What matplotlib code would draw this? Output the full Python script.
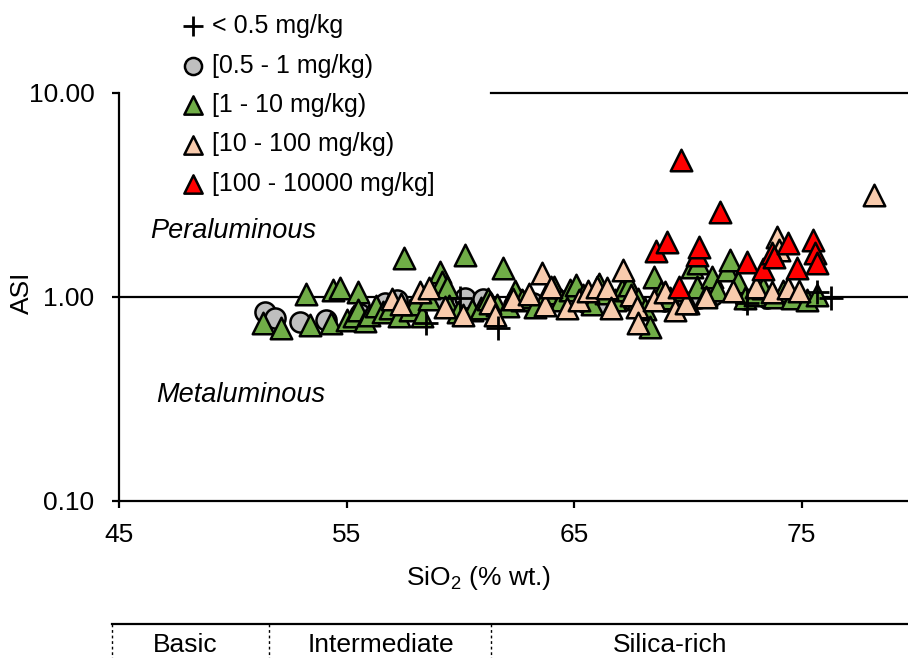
import numpy as np
import matplotlib
matplotlib.use("Agg")
from matplotlib import pyplot as plt
from matplotlib import transforms

plt.rcParams['font.family'] = ['Liberation Sans', 'DejaVu Sans']
plt.rcParams['mathtext.default'] = 'regular'

# ASI vs SiO2, grouped by concentration class
lt05_sio2 = [58.5, 60.0, 61.65, 72.6, 75.7, 76.3]
lt05_asi = [0.74, 0.98, 0.70, 0.93, 1.05, 0.99]

c05_1_sio2 = [51.4, 51.85, 52.95, 54.1, 55.6, 56.7, 57.2, 58.4, 59.2, 60.2, 61.0,
              62.5, 63.2, 64.5, 65.5, 66.5, 67.5, 69.0, 70.5, 71.1, 72.5, 73.5]
c05_1_asi = [0.84, 0.79, 0.75, 0.77, 0.82, 0.93, 0.96, 0.98, 0.96, 0.98, 0.97,
             0.97, 0.93, 0.95, 0.93, 0.90, 0.97, 0.95, 0.98, 1.02, 0.97, 0.99]

c1_10_sio2 = [51.3, 52.1, 53.2, 53.4, 54.3, 54.4, 54.7, 55.0, 55.3, 55.5, 55.5, 55.8,
              56.0, 56.3, 56.6, 56.9, 57.3, 57.5, 57.8, 58.0, 58.3, 58.6, 59.1, 59.2,
              59.4, 59.5, 59.9, 60.2, 60.5, 60.9, 61.2, 61.6, 61.85, 62.1, 62.4, 62.7,
              63.0, 63.3, 63.8, 64.1, 64.4, 64.8, 65.1, 65.4, 65.8, 66.1, 66.4, 66.8,
              67.1, 67.4, 67.8, 68.1, 68.35, 68.5, 68.8, 69.2, 69.6, 70.0, 70.2, 70.4,
              70.45, 70.8, 71.05, 71.3, 71.7, 71.85, 72.2, 72.5, 72.95, 73.3, 73.8,
              74.2, 74.6, 75.25, 75.7]
c1_10_asi = [0.74, 0.70, 1.03, 0.73, 0.74, 1.08, 1.10, 0.77, 0.80, 1.05, 0.86, 0.76,
             0.81, 0.90, 0.84, 0.88, 0.80, 1.55, 0.86, 0.92, 0.80, 0.97, 1.32, 1.18,
             1.12, 0.90, 0.84, 1.60, 0.86, 0.88, 0.97, 0.91, 1.38, 0.90, 1.06, 0.96,
             1.00, 0.89, 1.04, 1.12, 0.96, 1.08, 1.14, 1.02, 0.92, 1.16, 1.04, 0.96,
             1.08, 1.14, 0.97, 0.87, 0.71, 1.25, 1.05, 0.98, 1.08, 0.93, 1.40, 1.12,
             1.46, 1.02, 1.25, 1.08, 1.35, 1.51, 1.18, 0.98, 1.02, 1.10, 1.00,
             1.06, 0.98, 0.96, 1.02]

c10_100_sio2 = [57.0, 57.4, 58.2, 58.6, 59.3, 60.1, 61.3, 61.5, 62.3, 63.0, 63.6, 63.7,
                64.0, 64.7, 65.2, 65.6, 66.0, 66.45, 66.6, 67.15, 67.5, 67.75, 67.8,
                68.5, 69.0, 69.45, 69.9, 70.8, 72.0, 73.0, 73.7, 73.9, 74.0, 74.4,
                74.9, 78.2]
c10_100_asi = [0.97, 0.92, 1.05, 1.10, 0.89, 0.81, 0.93, 0.81, 0.97, 1.03, 1.31, 0.91,
               1.12, 0.88, 0.96, 1.06, 1.12, 1.10, 0.88, 1.35, 1.02, 0.89, 0.74,
               0.96, 1.05, 0.86, 0.93, 1.00, 1.06, 1.12, 1.05, 1.96, 1.69, 1.10,
               1.07, 3.15]

c100_sio2 = [68.6, 69.1, 69.6, 69.7, 70.4, 70.5, 71.4, 72.6, 73.3, 73.7, 73.8, 74.4,
             74.8, 75.5, 75.6, 75.7]
c100_asi = [1.67, 1.85, 1.12, 4.68, 1.60, 1.75, 2.60, 1.48, 1.37, 1.63, 1.57, 1.83,
            1.38, 1.90, 1.63, 1.46]

# silica classes along the bottom
class_edges = [44.7, 51.6, 61.35]
class_names = ['Basic', 'Intermediate', 'Silica-rich']
class_label_x = [47.9, 56.5, 69.2]

fig = plt.figure(figsize=(9.08, 6.58), dpi=100)
ax = fig.add_axes([0.1314, 0.2391, 0.8686, 0.6201])

ax.scatter(c05_1_sio2, c05_1_asi, marker='o', s=210, c='#BFBFBF', edgecolors='k',
           linewidths=1.8, zorder=3, label='[0.5 - 1 mg/kg)')
ax.scatter(c1_10_sio2, c1_10_asi, marker='^', s=240, c='#70AD47', edgecolors='k',
           linewidths=1.8, zorder=4, label='[1 - 10 mg/kg)')
ax.scatter(c10_100_sio2, c10_100_asi, marker='^', s=240, c='#F8CBAD', edgecolors='k',
           linewidths=1.8, zorder=5, label='[10 - 100 mg/kg)')
ax.scatter(c100_sio2, c100_asi, marker='^', s=240, c='#FF0000', edgecolors='k',
           linewidths=1.8, zorder=6, label='[100 - 10000 mg/kg]')
ax.scatter(lt05_sio2, lt05_asi, marker='+', s=300, c='k', linewidths=2, zorder=7,
           label='< 0.5 mg/kg')

ax.axhline(1, color='k', lw=1.6, zorder=2)

ax.set_yscale('log')
ax.set_xlim(45, 79.68)
ax.set_ylim(0.1, 10)
ax.set_xticks([45, 55, 65, 75])
ax.set_yticks([0.1, 1, 10])
ax.yaxis.set_minor_locator(matplotlib.ticker.NullLocator())
ax.yaxis.set_major_formatter(matplotlib.ticker.FormatStrFormatter('%.2f'))
ax.tick_params(axis='both', direction='out', length=5, width=1.6, labelsize=19)
ax.tick_params(axis='y', pad=13)
ax.tick_params(axis='x', pad=11)

ax.spines['right'].set_visible(False)
ax.spines['top'].set_bounds(61.35, 79.68)
for sp in ['left', 'bottom', 'top']:
    ax.spines[sp].set_linewidth(1.6)

ax.set_xlabel('SiO$_2$ (% wt.)', fontsize=19)
ax.xaxis.set_label_coords(0.455, -0.155)
ax.set_ylabel('ASI', fontsize=19)
ax.yaxis.set_label_coords(-0.108, 0.51)

ax.text(46.35, 2.1, 'Peraluminous', fontsize=19.5, style='italic', va='center')
ax.text(46.6, 0.33, 'Metaluminous', fontsize=19.5, style='italic', va='center')

# legend above the plot area
handles, labels = ax.get_legend_handles_labels()
order = [4, 0, 1, 2, 3]
fig.legend([handles[i] for i in order], [labels[i] for i in order],
           loc='upper left', bbox_to_anchor=(183 / 908, 1 - 14 / 658),
           frameon=False, fontsize=18, handlelength=0.8, handletextpad=0.35,
           labelspacing=0.62, borderpad=0, borderaxespad=0, scatterpoints=1,
           markerscale=0.85)

# silica class bar
trans = transforms.blended_transform_factory(ax.transData, fig.transFigure)
bar_y = 1 - 624 / 658
ax.plot([class_edges[0], 79.68], [bar_y, bar_y], color='k', lw=1.6,
        transform=trans, clip_on=False)
for xe in class_edges:
    ax.plot([xe, xe], [bar_y, 0], color='k', lw=1, ls=(0, (2, 2)),
            transform=trans, clip_on=False)
for xl, name in zip(class_label_x, class_names):
    ax.text(xl, 1 - 652 / 658, name, fontsize=19, ha='center', va='baseline',
            transform=trans)

fig.savefig('out.png', dpi=100)
